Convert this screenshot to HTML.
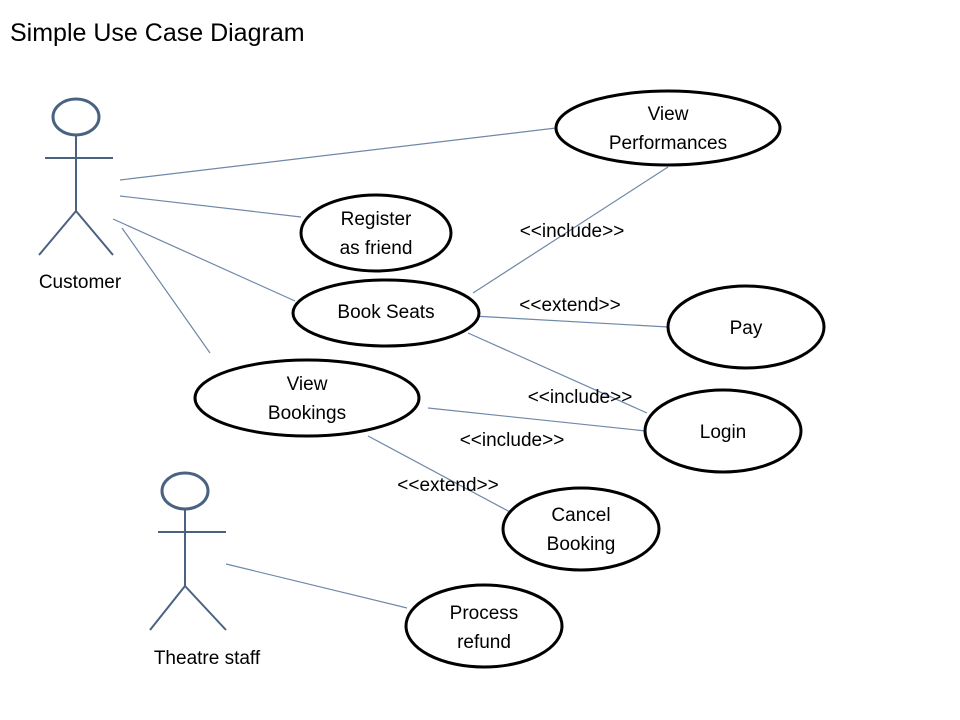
<!DOCTYPE html>
<html><head><meta charset="utf-8"><style>
html,body{margin:0;padding:0;background:#fff;}
svg{display:block;}
text{font-family:"Liberation Sans",sans-serif;fill:#000;}
</style></head><body>
<svg width="960" height="720" viewBox="0 0 960 720" xmlns="http://www.w3.org/2000/svg">
<text x="10" y="41" font-size="25">Simple Use Case Diagram</text>
<g stroke="#6f88a8" stroke-width="1.2" fill="none">
<line x1="120" y1="180" x2="556" y2="128"/>
<line x1="120" y1="196" x2="301" y2="217"/>
<line x1="113" y1="219" x2="295" y2="301"/>
<line x1="122" y1="228" x2="210" y2="353"/>
<line x1="473" y1="293" x2="668" y2="167"/>
<line x1="473" y1="316" x2="668" y2="327"/>
<line x1="468" y1="333" x2="647" y2="413"/>
<line x1="428" y1="408" x2="646" y2="431"/>
<line x1="368" y1="436" x2="510" y2="512"/>
<line x1="226" y1="564" x2="407" y2="608"/>
</g>
<g stroke="#4a6282" stroke-width="2" fill="none">
<ellipse cx="76" cy="117" rx="23" ry="18" stroke-width="3"/>
<line x1="76" y1="135" x2="76" y2="211"/>
<line x1="45" y1="158" x2="113" y2="158"/>
<line x1="76" y1="211" x2="39" y2="255"/>
<line x1="76" y1="211" x2="113" y2="255"/>
<ellipse cx="185" cy="491" rx="23" ry="18" stroke-width="3"/>
<line x1="185" y1="509" x2="185" y2="586"/>
<line x1="158" y1="532" x2="226" y2="532"/>
<line x1="185" y1="586" x2="150" y2="630"/>
<line x1="185" y1="586" x2="226" y2="630"/>
</g>
<g stroke="#000" stroke-width="3" fill="#fff">
<ellipse cx="668" cy="128" rx="112" ry="37"/>
<ellipse cx="376" cy="233" rx="75" ry="38"/>
<ellipse cx="386" cy="313" rx="93" ry="33"/>
<ellipse cx="746" cy="327" rx="78" ry="41"/>
<ellipse cx="307" cy="398" rx="112" ry="38"/>
<ellipse cx="723" cy="431" rx="78" ry="41"/>
<ellipse cx="581" cy="529" rx="78" ry="41"/>
<ellipse cx="484" cy="626" rx="78" ry="41"/>
</g>
<g font-size="19" text-anchor="middle">
<text x="668" y="120">View</text><text x="668" y="149">Performances</text>
<text x="376" y="225">Register</text><text x="376" y="254">as friend</text>
<text x="386" y="318">Book Seats</text>
<text x="746" y="334">Pay</text>
<text x="307" y="390">View</text><text x="307" y="419">Bookings</text>
<text x="723" y="438">Login</text>
<text x="581" y="521">Cancel</text><text x="581" y="550">Booking</text>
<text x="484" y="619">Process</text><text x="484" y="648">refund</text>
<text x="80" y="288">Customer</text>
<text x="207" y="664">Theatre staff</text>
<text x="572" y="237">&lt;&lt;include&gt;&gt;</text>
<text x="570" y="311">&lt;&lt;extend&gt;&gt;</text>
<text x="580" y="403">&lt;&lt;include&gt;&gt;</text>
<text x="512" y="446">&lt;&lt;include&gt;&gt;</text>
<text x="448" y="491">&lt;&lt;extend&gt;&gt;</text>
</g>
</svg>
</body></html>
